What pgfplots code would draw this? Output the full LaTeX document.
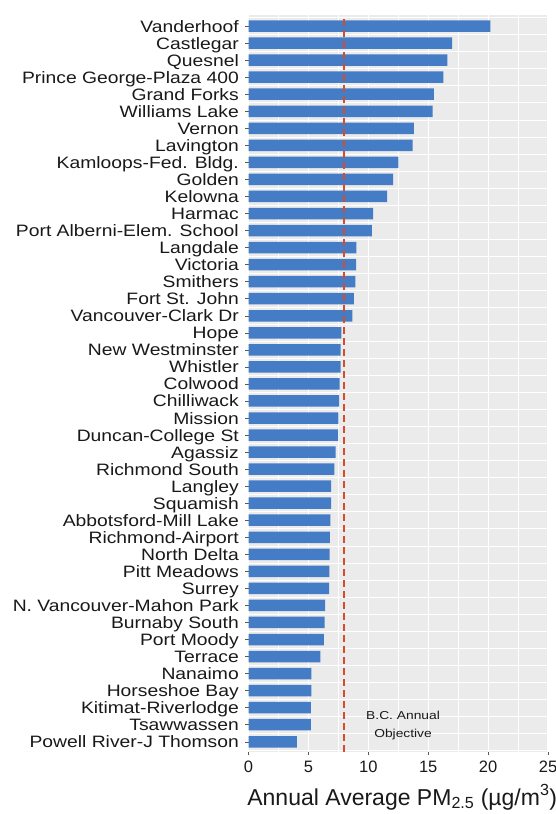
\documentclass[border=0pt]{standalone}
\usepackage{fontspec}
\setmainfont{Liberation Sans}
\newfontfamily\labfont[FakeStretch=1.17]{Liberation Sans}
\newfontfamily\annfont[FakeStretch=1.2]{Liberation Sans}
\usepackage{pgfplots}
\pgfplotsset{compat=1.18}
\definecolor{barblue}{RGB}{68,124,198}
\definecolor{objred}{RGB}{215,75,45}
\definecolor{panelbg}{RGB}{235,235,235}
\definecolor{txt}{RGB}{25,25,25}
\begin{document}
\begin{tikzpicture}
\path[use as bounding box, clip] (0,0) rectangle (556pt,814pt);
\begin{axis}[
  at={(248.5pt,62pt)}, anchor=south west,
  scale only axis, width=299.5pt, height=737pt,
  xmin=0, xmax=25, ymin=-0.6, ymax=42.65,
  axis background/.style={fill=panelbg},
  axis x line*=bottom, axis y line*=left,
  axis line style={draw=none},
  xtick={0,5,10,15,20,25},
  minor xtick={2.5,7.5,12.5,17.5,22.5},
  ytick={0,...,42},
  minor ytick={-0.5,0.5,...,42.5},
  xmajorgrids, xminorgrids, yminorgrids,
  major grid style={white, line width=1.1pt},
  minor grid style={white, line width=0.55pt},
  tick align=outside,
  major tick length=3pt,
  minor tick length=0pt,
  every tick/.style={gray!70!black, line width=0.5pt},
  /pgf/number format/assume math mode=true,
  xticklabel style={font=\fontsize{16.5}{18}\selectfont, text=txt, inner sep=0pt, anchor=north, yshift=-6pt},
  yticklabel style={font=\labfont\fontsize{16.5}{18}\selectfont, text=txt, inner sep=0pt, anchor=base east, yshift=-6pt, xshift=-6.5pt},
  yticklabels={Powell River-J Thomson, Tsawwassen, Kitimat-Riverlodge, Horseshoe Bay, Nanaimo, Terrace, Port Moody, Burnaby South, N. Vancouver-Mahon Park, Surrey, Pitt Meadows, North Delta, Richmond-Airport, Abbotsford-Mill Lake, Squamish, Langley, Richmond South, Agassiz, Duncan-College St, Mission, Chilliwack, Colwood, Whistler, New Westminster, Hope, Vancouver-Clark Dr, Fort St. John, Smithers, Victoria, Langdale, Port Alberni-Elem. School, Harmac, Kelowna, Golden, Kamloops-Fed. Bldg., Lavington, Vernon, Williams Lake, Grand Forks, Prince George-Plaza 400, Quesnel, Castlegar, Vanderhoof},
  xlabel={Annual Average PM\textsubscript{2.5} (µg/m\textsuperscript{3})},
  xlabel style={font=\fontsize{23}{26}\selectfont, text=txt, anchor=base, inner sep=0pt, at={(axis description cs:0.5,0)}, yshift=-53pt, xshift=4pt},
]
\addplot[xbar, bar width=11.5pt, fill=barblue, draw=none] coordinates {
(4.04,0) (5.21,1) (5.21,2) (5.24,3) (5.24,4) (6.00,5) (6.30,6) (6.36,7) (6.39,8) (6.72,9)
(6.75,10) (6.78,11) (6.80,12) (6.83,13) (6.89,14) (6.89,15) (7.17,16) (7.28,17) (7.48,18) (7.50,19)
(7.56,20) (7.60,21) (7.70,22) (7.70,23) (7.76,24) (8.68,25) (8.79,26) (8.93,27) (8.98,28) (9.00,29)
(10.30,30) (10.40,31) (11.57,32) (12.08,33) (12.50,34) (13.70,35) (13.81,36) (15.37,37) (15.48,38) (16.26,39)
(16.60,40) (17.00,41) (20.20,42)
};
\draw[draw=objred, line width=1.6pt, dash pattern=on 7pt off 4pt] (axis cs:7.95,-0.6) -- (axis cs:7.95,42.65);
\node[font=\annfont\fontsize{11.5}{12}\selectfont, text=txt, inner sep=0pt] at (axis cs:12.9,1.57) {B.C. Annual};
\node[font=\annfont\fontsize{11.5}{12}\selectfont, text=txt, inner sep=0pt] at (axis cs:12.9,0.4) {Objective};
\end{axis}
\end{tikzpicture}
\end{document}
